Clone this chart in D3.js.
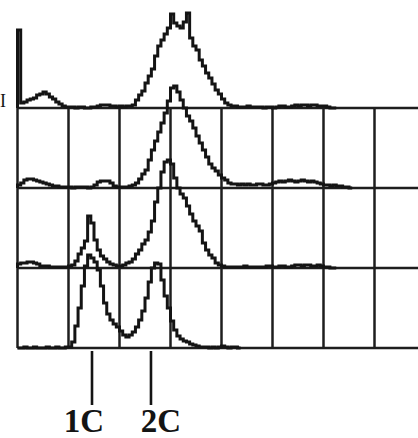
<!DOCTYPE html>
<html>
<head>
<meta charset="utf-8">
<script src="https://cdn.jsdelivr.net/npm/d3@7/dist/d3.min.js"></script>
<style>
  body { margin: 0; background: #fff; }
</style>
</head>
<body>
<div id="wrapper"></div>
<script>
// channel width of one histogram bin (1024 channels in total)
const binWidth = 8
const gridChannels = [0, 128, 256, 384, 512, 640, 768, 896]
const markerChannels = [187, 335]
const markerLabels = ["1C", "2C"]

// counts per bin, one array per histogram (top to bottom)
const trace1 = [78, 5, 6, 8, 9, 10, 13, 14, 16, 14, 11, 9, 6, 4, 2, 1, 1, 1, 0, 1,
  1, 0, 0, 1, 1, 2, 3, 3, 3, 2, 2, 1, 2, 1, 2, 2, 3, 8, 13, 17,
  25, 32, 39, 52, 62, 68, 74, 80, 94, 85, 82, 80, 86, 95, 70, 62, 58, 48, 42, 35,
  30, 24, 18, 14, 9, 5, 3, 2, 2, 1, 1, 1, 2, 1, 1, 1, 1, 0, 1, 1,
  0, 1, 2, 2, 1, 1, 2, 3, 2, 3, 3, 2, 3, 3, 2, 2, 2, 1, 0, 0]
const trace2 = [3, 5, 8, 9, 9, 8, 7, 6, 5, 4, 3, 2, 2, 1, 1, 1, 1, 0, 1, 1,
  1, 1, 0, 1, 3, 6, 7, 7, 7, 5, 2, 1, 1, 1, 1, 2, 3, 5, 9, 14,
  18, 28, 38, 47, 56, 65, 75, 87, 100, 102, 96, 88, 80, 72, 67, 60, 52, 45, 38, 31,
  24, 20, 17, 13, 10, 8, 5, 4, 4, 3, 4, 3, 4, 3, 3, 4, 4, 3, 3, 4,
  5, 6, 7, 6, 7, 8, 7, 6, 7, 8, 7, 6, 7, 6, 5, 4, 3, 3, 2, 3,
  2, 2, 1, 1, 0]
const trace3 = [4, 5, 5, 6, 6, 5, 4, 2, 2, 2, 1, 1, 1, 1, 1, 1, 2, 3, 7, 14,
  20, 27, 52, 45, 28, 18, 12, 9, 6, 4, 3, 2, 2, 3, 5, 6, 9, 14, 18, 24,
  28, 36, 47, 66, 80, 96, 106, 108, 104, 90, 80, 74, 70, 62, 54, 47, 42, 37, 25, 18,
  13, 10, 5, 3, 2, 1, 1, 1, 1, 1, 1, 2, 1, 1, 1, 1, 1, 1, 2, 2,
  1, 1, 2, 2, 1, 1, 2, 3, 3, 2, 3, 3, 2, 2, 3, 2, 1, 1, 0, 0]
const trace4 = [0, 0, 1, 0, 0, 1, 0, 0, 0, 1, 0, 0, 1, 0, 0, 1, 1, 6, 22, 40,
  62, 82, 93, 90, 86, 78, 62, 45, 34, 28, 24, 21, 17, 13, 11, 13, 16, 21, 28, 37,
  50, 66, 80, 85, 84, 68, 52, 40, 27, 18, 12, 9, 7, 6, 4, 3, 2, 1, 1, 1,
  0, 1, 0, 1, 2, 1, 0, 1, 1, 0]
const traces = [trace1, trace2, trace3, trace4]

const width = 418
const height = 438

const svg = d3.select("#wrapper")
  .append("svg")
    .attr("width", width)
    .attr("height", height)

const xScale = d3.scaleLinear()
  .domain([0, 1024])
  .range([17.5, 425.5])

// baseline of each histogram row
const rowScale = d3.scaleLinear()
  .domain([0, 3])
  .range([108, 348])

const countScale = d3.scaleLinear()
  .domain([0, 100])
  .range([0, 100])

const ink = "#141414"

// grid
const grid = svg.append("g")
  .attr("stroke", "#1e1e1e")
  .attr("stroke-width", 2.5)

grid.selectAll("line.h")
  .data(d3.range(traces.length))
  .join("line")
    .attr("class", "h")
    .attr("x1", xScale(0))
    .attr("x2", width)
    .attr("y1", d => rowScale(d))
    .attr("y2", d => rowScale(d))

grid.selectAll("line.v")
  .data(gridChannels)
  .join("line")
    .attr("class", "v")
    .attr("x1", d => xScale(d))
    .attr("x2", d => xScale(d))
    .attr("y1", rowScale(0))
    .attr("y2", rowScale(3))

// histograms
traces.forEach((counts, i) => {
  const points = counts.map((c, k) => [k * binWidth, c])
  points.unshift([0, 0])
  points.push([counts.length * binWidth, counts[counts.length - 1]])

  const line = d3.line()
    .x(d => xScale(d[0]))
    .y(d => rowScale(i) - countScale(d[1]))
    .curve(d3.curveStepAfter)

  svg.append("path")
    .datum(points)
    .attr("d", line)
    .attr("fill", "none")
    .attr("stroke", ink)
    .attr("stroke-width", 3)
    .attr("stroke-linejoin", "miter")
})

// DNA content markers
const markers = svg.append("g")

markers.selectAll("line")
  .data(markerChannels)
  .join("line")
    .attr("x1", d => xScale(d))
    .attr("x2", d => xScale(d))
    .attr("y1", 351)
    .attr("y2", 405)
    .attr("stroke", ink)
    .attr("stroke-width", 2.6)

markers.selectAll("text")
  .data(markerChannels)
  .join("text")
    .attr("x", d => xScale(d))
    .attr("dx", (d, i) => i === 0 ? -8 : 10)
    .attr("y", 432)
    .attr("text-anchor", "middle")
    .attr("fill", ink)
    .style("font-family", "'Liberation Serif', 'DejaVu Serif', serif")
    .style("font-size", "33px")
    .style("font-weight", "bold")
    .text((d, i) => markerLabels[i])

// small letter at the left edge of the scan
svg.append("text")
  .attr("x", 0)
  .attr("y", 107)
  .attr("text-anchor", "start")
  .attr("fill", ink)
  .style("font-family", "'Liberation Serif', serif")
  .style("font-size", "18px")
  .text("I")
</script>
</body>
</html>
